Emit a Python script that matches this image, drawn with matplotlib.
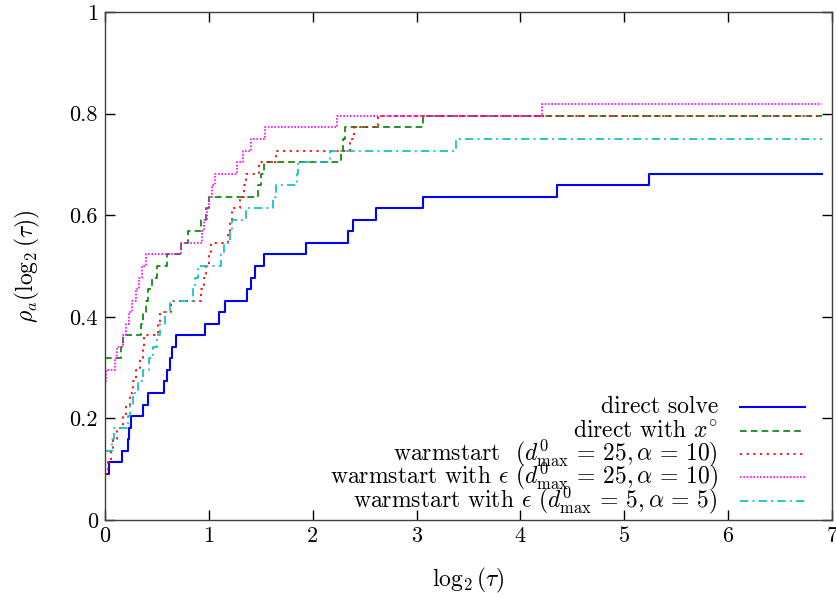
import matplotlib
matplotlib.use("Agg")
import matplotlib.pyplot as plt

plt.rcParams['font.family'] = 'serif'
plt.rcParams['font.serif'] = ['cmr10']
plt.rcParams['mathtext.fontset'] = 'cm'
plt.rcParams['axes.formatter.use_mathtext'] = True

# performance profile data: log2(tau) breakpoints and number of solved problems (out of 44)
n_problems = 44
x_end = 6.9

direct_x = [0, 0.04, 0.16, 0.22, 0.235, 0.25, 0.37, 0.41, 0.565, 0.60, 0.63, 0.645, 0.68,
            0.96, 1.10, 1.16, 1.37, 1.41, 1.44, 1.53, 1.935, 2.34, 2.39, 2.605, 3.06, 4.35, 5.24]
direct_n = [4, 5, 6, 7, 8, 9, 10, 11, 12, 13, 14, 15, 16,
            17, 18, 19, 20, 21, 22, 23, 24, 25, 26, 27, 28, 29, 30]

xo_x = [0, 0.15, 0.17, 0.35, 0.37, 0.39, 0.41, 0.45, 0.50, 0.60, 0.73, 0.80, 0.92, 0.97,
        1.00, 1.47, 1.50, 1.53, 2.27, 2.29, 2.31, 3.06]
xo_n = [14, 15, 16, 17, 18, 19, 20, 21, 22, 23, 24, 25, 26, 27,
        28, 29, 30, 31, 32, 33, 34, 35]

warm_x = [0, 0.03, 0.06, 0.08, 0.12, 0.17, 0.20, 0.24, 0.27, 0.30, 0.34, 0.37, 0.38, 0.51,
          0.53, 0.64, 0.92, 0.95, 0.97, 1.00, 1.02, 1.18, 1.20, 1.22, 1.30, 1.34, 1.36,
          1.48, 1.65, 2.36, 2.40, 2.63]
warm_n = [4, 5, 6, 7, 8, 9, 10, 11, 12, 13, 14, 15, 16, 17,
          18, 19, 20, 21, 22, 23, 24, 25, 26, 27, 28, 29, 30,
          31, 32, 33, 34, 35]

eps25_x = [0, 0.005, 0.10, 0.12, 0.17, 0.20, 0.23, 0.26, 0.30, 0.33, 0.36, 0.39, 0.73,
           0.93, 0.95, 0.98, 1.00, 1.03, 1.06, 1.27, 1.33, 1.41, 1.54, 2.23, 4.21]
eps25_n = [12, 13, 14, 15, 16, 17, 18, 19, 20, 21, 22, 23, 24,
           25, 26, 27, 28, 29, 30, 31, 32, 33, 34, 35, 36]

eps5_x = [0, 0.07, 0.09, 0.22, 0.24, 0.27, 0.32, 0.37, 0.42, 0.46, 0.50, 0.53, 0.58, 0.63,
          0.85, 0.87, 0.90, 1.12, 1.15, 1.20, 1.22, 1.36, 1.62, 1.65, 1.85, 1.855, 2.17, 3.38]
eps5_n = [6, 7, 8, 9, 10, 11, 12, 13, 14, 15, 16, 17, 18, 19,
          20, 21, 22, 23, 24, 25, 26, 27, 28, 29, 30, 31, 32, 33]

labels = [
    'direct solve',
    r'direct with $x^{\circ}$',
    r'warmstart  $(d^0_{\max}\,=\,25, \alpha\,=\,10)$',
    r'warmstart with $\epsilon$ $(d^0_{\max}\,=\,25, \alpha\,=\,10)$',
    r'warmstart with $\epsilon$ $(d^0_{\max}\,=\,5, \alpha\,=\,5)$',
]
series = [(direct_x, direct_n), (xo_x, xo_n), (warm_x, warm_n), (eps25_x, eps25_n), (eps5_x, eps5_n)]
colors = ['#0000ff', '#008000', '#ff0000', '#ff00ff', '#00c0c0']
dashes = [(None, None), (4, 2.5), (1.2, 2.5), (1, 1), (5, 2.5, 1.2, 2.5)]
widths = [1.5, 1.2, 1.3, 1.2, 1.2]

fig = plt.figure(figsize=(8.37, 5.98), dpi=100)
ax = fig.add_axes([105 / 837, 78 / 598, 727 / 837, 508 / 598])

for (xs, ns), c, d, w in zip(series, colors, dashes, widths):
    xx = list(xs) + [x_end]
    yy = [v / n_problems for v in ns] + [ns[-1] / n_problems]
    line, = ax.step(xx, yy, where='post', color=c, lw=w)
    if d[0] is not None:
        line.set_dashes(d)

ax.set_xlim(0, 7)
ax.set_ylim(0, 1)
ax.set_xticks(range(8))
ax.set_xticklabels([str(i) for i in range(8)])
ax.set_yticks([0, 0.2, 0.4, 0.6, 0.8, 1])
ax.set_yticklabels(['0', '0.2', '0.4', '0.6', '0.8', '1'])
ax.tick_params(direction='in', length=7, width=1, top=True, right=True, labelsize=16, pad=5)
for s in ax.spines.values():
    s.set_color('#404040')
    s.set_linewidth(1)

ax.set_xlabel(r'$\log_2(\tau)$', fontsize=17, labelpad=14)
ax.set_ylabel(r'$\rho_a(\log_2(\tau))$', fontsize=17, labelpad=20)

# gnuplot-like key: right-aligned labels, line samples on the right
key_rows = [0.2224, 0.1752, 0.1299, 0.0846, 0.0374]
for yk, lab, c, d, w in zip(key_rows, labels, colors, dashes, widths):
    ax.text(0.843, yk - 0.012, lab, transform=ax.transAxes, ha='right', va='baseline', fontsize=17)
    ln, = ax.plot([0.8735, 0.963], [yk, yk], transform=ax.transAxes, color=c, lw=w)
    if d[0] is not None:
        ln.set_dashes(d)

fig.savefig('out.png', dpi=100)
